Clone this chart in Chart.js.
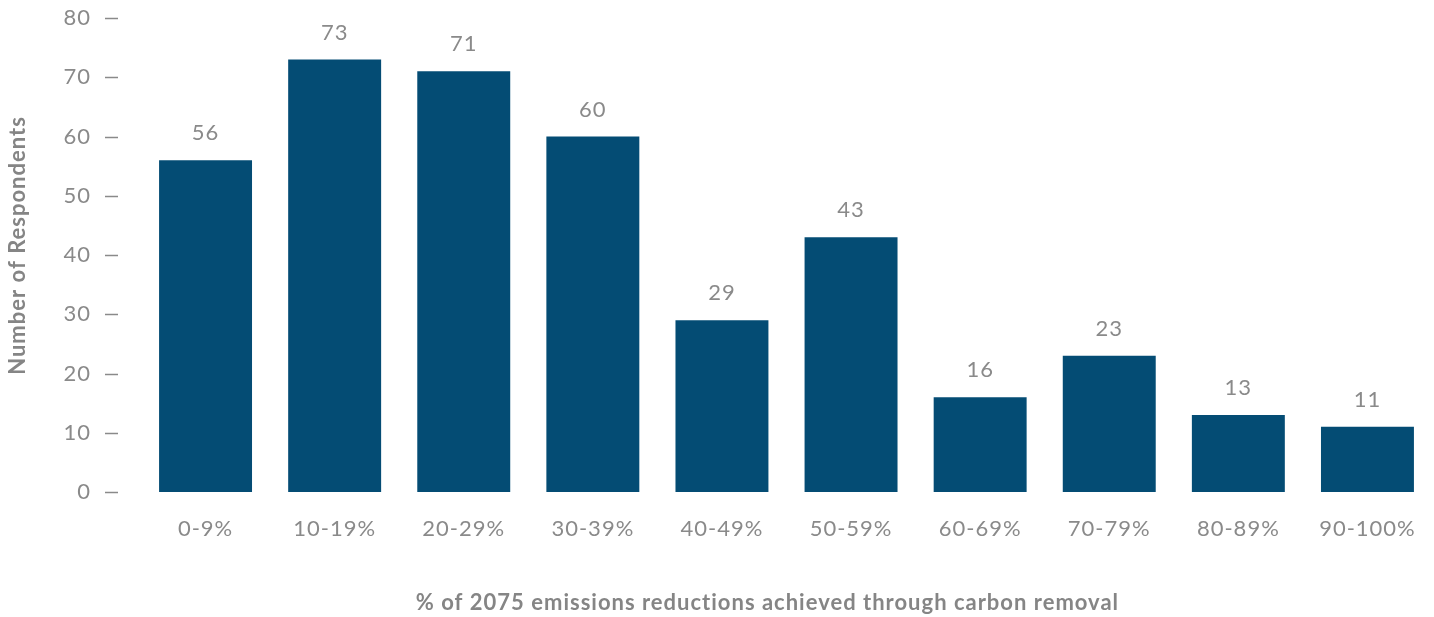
<!DOCTYPE html>
<html>
<head>
<meta charset="utf-8">
<script src="https://cdn.jsdelivr.net/npm/chart.js@4"></script>
<style>
  html, body { margin: 0; padding: 0; background: #ffffff; }
  #wrap { width: 1434px; height: 617px; position: relative; }
</style>
</head>
<body>
<div id="wrap"><canvas id="c" width="1434" height="617"></canvas></div>
<script>
const categories = ['0-9%', '10-19%', '20-29%', '30-39%', '40-49%', '50-59%', '60-69%', '70-79%', '80-89%', '90-100%'];
const respondents = [56, 73, 71, 60, 29, 43, 16, 23, 13, 11];
const yTicks = [0, 10, 20, 30, 40, 50, 60, 70, 80];
const xTitle = '% of 2075 emissions reductions achieved through carbon removal';
const yTitle = 'Number of Respondents';

const BAR = '#044c74';
const GRAY = '#8a8a8a';
const TITLE_GRAY = '#858585';
const FONT = 'Lato, "Open Sans", sans-serif';

const spacingPlugin = {
  id: 'spacing',
  beforeInit(chart) { chart.ctx.letterSpacing = '1px'; },
  beforeUpdate(chart) { chart.ctx.letterSpacing = '1px'; },
  beforeDraw(chart) { chart.ctx.letterSpacing = '1px'; }
};

const extrasPlugin = {
  id: 'extras',
  afterDatasetsDraw(chart) {
    const ctx = chart.ctx;
    const meta = chart.getDatasetMeta(0);
    ctx.save();
    ctx.letterSpacing = '1px';
    ctx.fillStyle = GRAY;
    ctx.font = '22px ' + FONT;
    ctx.textAlign = 'center';
    ctx.textBaseline = 'middle';
    meta.data.forEach((bar, i) => {
      ctx.fillText(String(respondents[i]), bar.x, bar.y - 27);
    });
    // y tick dashes
    const ys = chart.scales.y;
    const left = chart.chartArea.left;
    ctx.strokeStyle = GRAY;
    ctx.lineWidth = 1.5;
    yTicks.forEach(v => {
      const py = Math.round(ys.getPixelForValue(v)) + 0.5;
      ctx.beginPath();
      ctx.moveTo(left - 36, py);
      ctx.lineTo(left - 23, py);
      ctx.stroke();
    });
    ctx.restore();
  }
};

new Chart(document.getElementById('c'), {
  type: 'bar',
  data: {
    labels: categories,
    datasets: [{
      data: respondents,
      backgroundColor: BAR,
      borderWidth: 0,
      barPercentage: 0.72,
      categoryPercentage: 1.0
    }]
  },
  options: {
    responsive: false,
    animation: false,
    devicePixelRatio: 1,
    layout: { padding: { top: 18, right: 2, bottom: 0, left: 0 } },
    plugins: { legend: { display: false }, tooltip: { enabled: false } },
    scales: {
      x: {
        grid: { display: false, drawTicks: false },
        border: { display: false },
        ticks: { color: GRAY, font: { family: FONT, size: 22 }, padding: 24, maxRotation: 0 },
        title: {
          display: true, text: xTitle + '\u00a0\u00a0\u00a0\u00a0\u00a0\u00a0', color: TITLE_GRAY,
          font: { family: FONT, size: 22, weight: 'bold' },
          padding: { top: 0, bottom: 1 }
        },
        afterFit(scale) {
          scale.height = 125;
          scale.paddingLeft = 0; scale.paddingRight = 0;
        }
      },
      y: {
        min: 0, max: 80,
        afterBuildTicks(scale) { scale.ticks = yTicks.map(v => ({ value: v })); },
        grid: { display: false, drawTicks: false },
        border: { display: false },
        ticks: { color: GRAY, font: { family: FONT, size: 22 }, padding: 50 },
        title: {
          display: true, text: '\u00a0\u00a0\u00a0' + yTitle, color: TITLE_GRAY,
          font: { family: FONT, size: 22, weight: 'bold' },
          padding: { top: 5, bottom: 0 }
        },
        afterFit(scale) {
          scale.width = 141;
          scale.paddingTop = 0; scale.paddingBottom = 0;
        }
      }
    }
  },
  plugins: [spacingPlugin, extrasPlugin]
});
</script>
</body>
</html>
